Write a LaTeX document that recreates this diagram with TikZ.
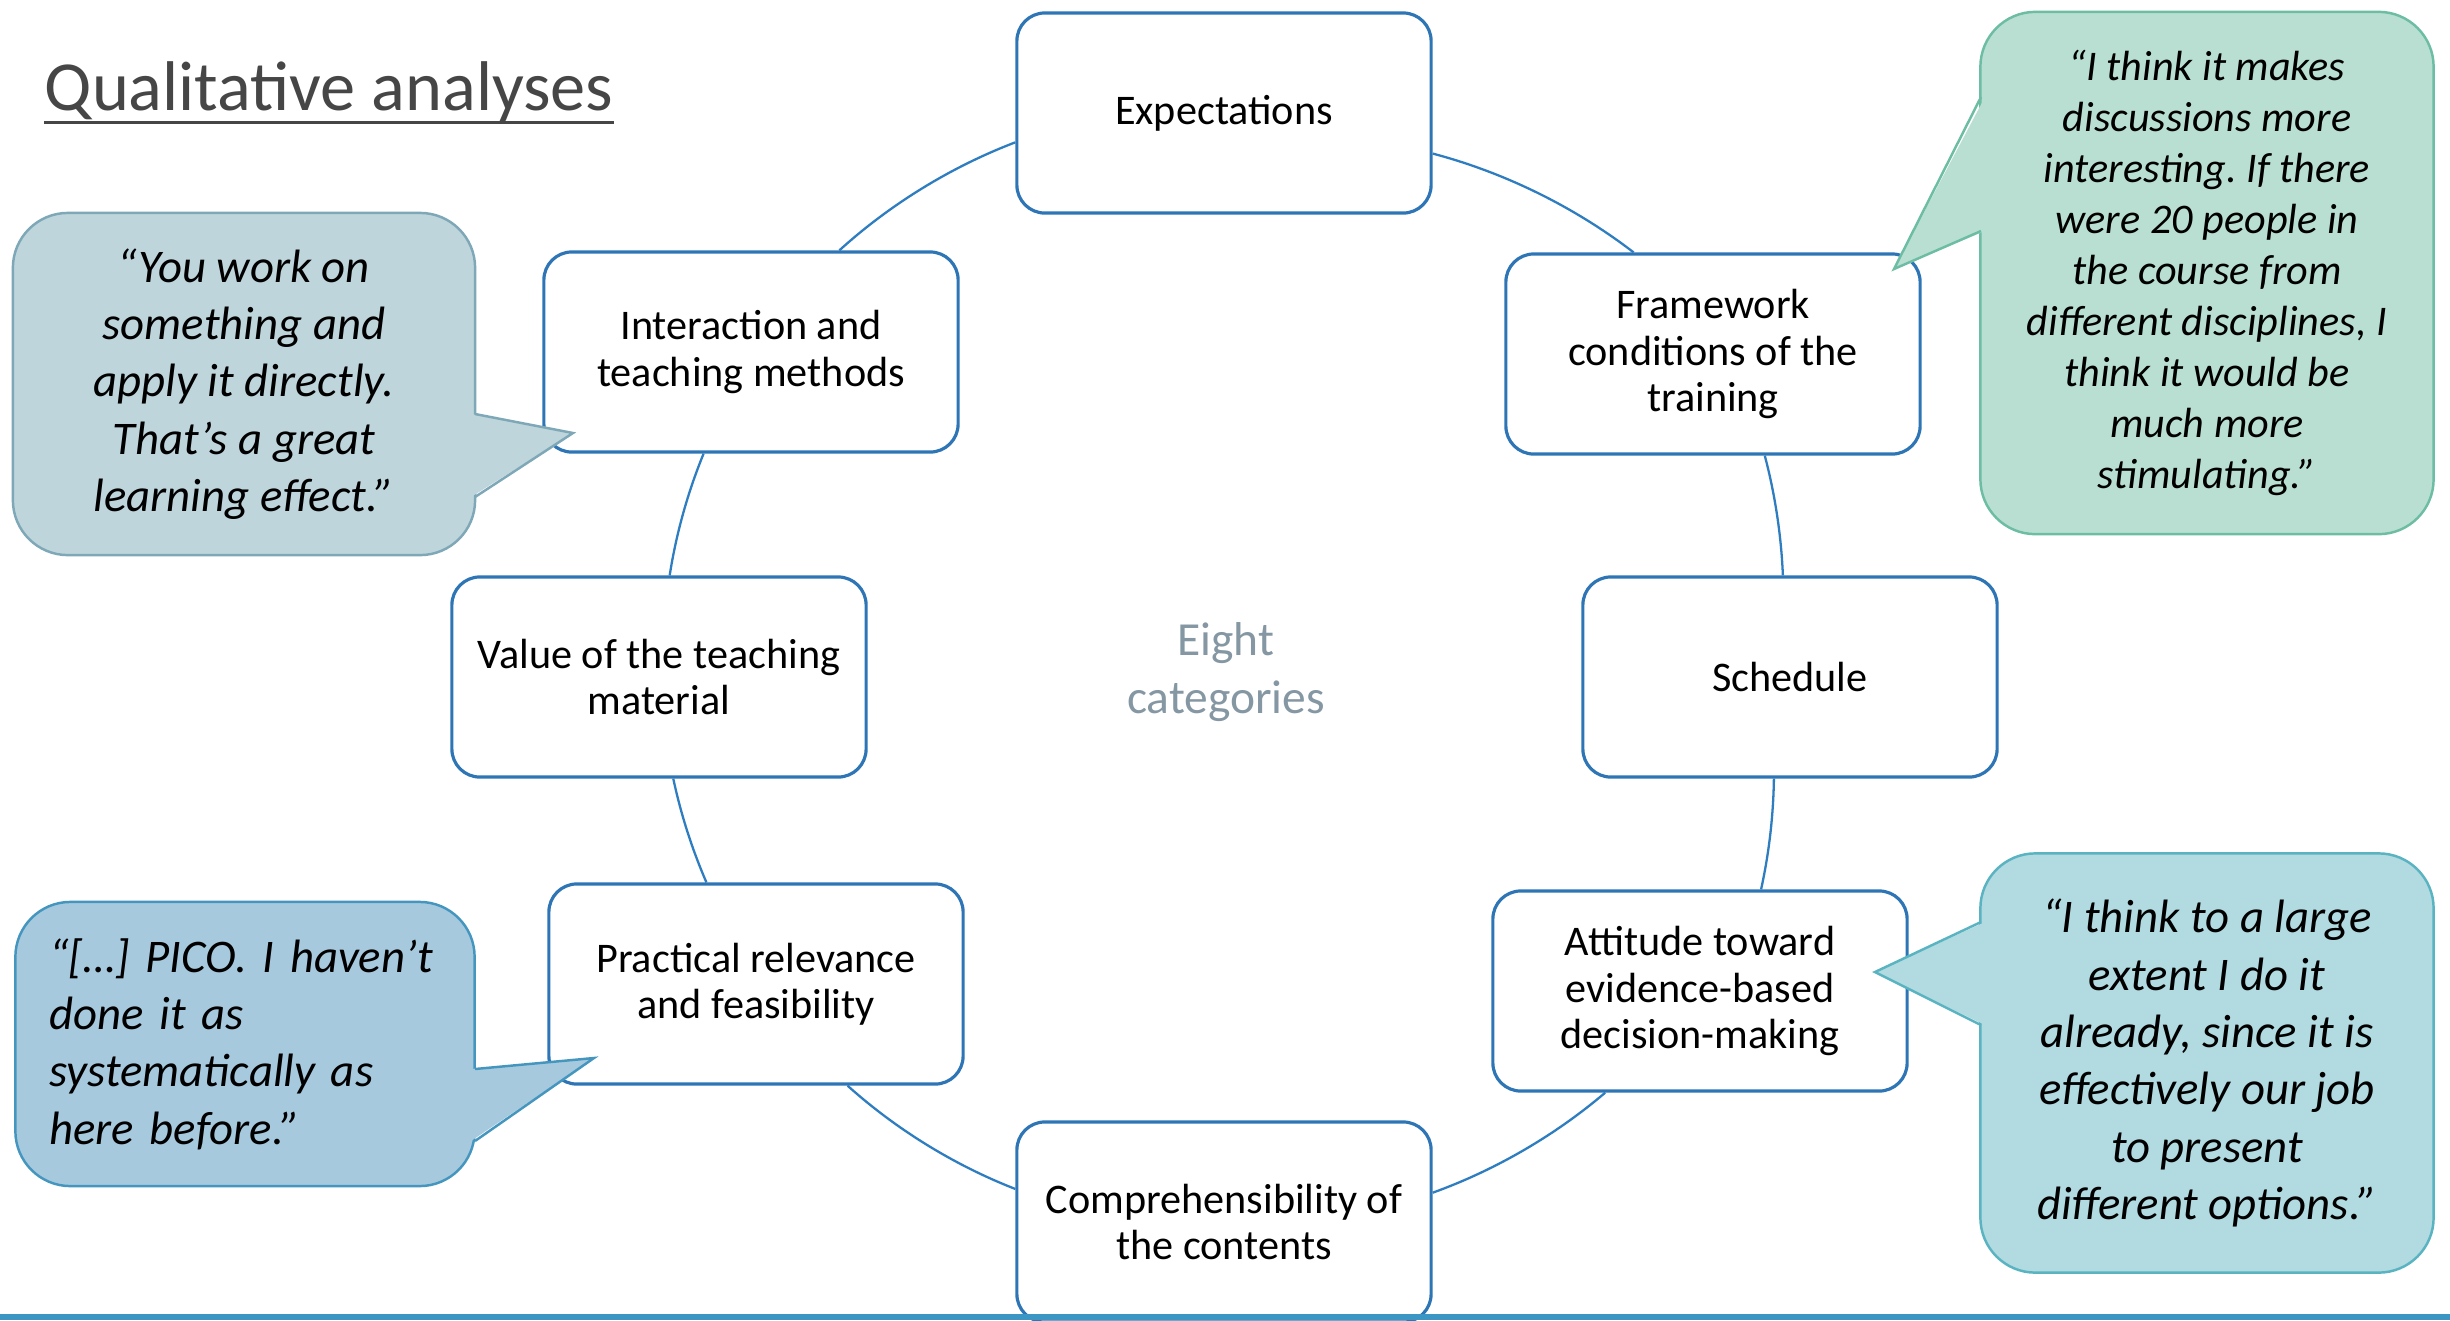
\documentclass[tikz,border=0pt]{standalone}
\usepackage{fontspec}
\setmainfont{Carlito}
\usetikzlibrary{positioning}
\frenchspacing

\definecolor{boxblue}{HTML}{2E75B6}
\definecolor{ringblue}{HTML}{2E7DC0}
\definecolor{titlegray}{HTML}{464646}
\definecolor{hubgray}{HTML}{8497A3}
\definecolor{rulecol}{HTML}{3C96C3}
\definecolor{quoteAfill}{HTML}{BFD5DC}
\definecolor{quoteAline}{HTML}{7EA8B7}
\definecolor{quoteBfill}{HTML}{B9DFD3}
\definecolor{quoteBline}{HTML}{6CBDA3}
\definecolor{quoteCfill}{HTML}{A7C9DE}
\definecolor{quoteCline}{HTML}{4596BF}
\definecolor{quoteDfill}{HTML}{B1DAE1}
\definecolor{quoteDline}{HTML}{5AB3C1}

\begin{document}
\begin{tikzpicture}[
			x=0.01cm, y=-0.01cm,
			category/.style={draw=boxblue, line width=0.9pt, fill=white, rounded corners=2.8mm, minimum width=41.4mm, minimum height=20mm, align=center, inner sep=1mm, font=\fontsize{12}{13.2}\selectfont},
			ring/.style={draw=ringblue, line width=0.65pt, looseness=0.85},
			bubble/.style={rounded corners=5.5mm, line width=0.7pt, inner sep=0pt, align=center, font=\fontsize{13.3}{16.3}\selectfont\itshape},
			tail/.style={line width=0.7pt, line join=miter},
		]
			\useasboundingbox (0,0) rectangle (2450,1320);
			\fill[white] (0,0) rectangle (2450,1320);

			\node[anchor=base west, inner sep=0pt, text=titlegray, font=\fontsize{20}{24}\selectfont] (title) at (44,110) {Qualitative analyses};
			\draw[titlegray, line width=0.85pt] ([yshift=-1.2mm]title.base west) -- ([yshift=-1.2mm]title.base east);

			\node[category] (expect) at (1224,113) {Expectations};
			\node[category] (interact) at (751,352) {Interaction and\\teaching methods};
			\node[category] (value) at (659,677) {Value of the teaching\\material};
			\node[category] (pract) at (756,984) {Practical relevance\\and feasibility};
			\node[category] (compr) at (1224,1222) {Comprehensibility of\\the contents};
			\node[category] (attit) at (1700,991) {Attitude toward\\evidence-based\\decision-making};
			\node[category] (sched) at (1790,677) {Schedule};
			\node[category] (frame) at (1713,354) {Framework\\conditions of the\\training};

			\node[text=hubgray, align=center, font=\fontsize{13.5}{16.5}\selectfont] (hub) at (1226,672) {Eight\\categories};

			% ring of arcs, counterclockwise
			\draw[ring] (expect.188.7) to[bend right=10.7] (interact.49.6);
			\draw[ring] (interact.245.3) to[bend right=6.7] (value.84.3);
			\draw[ring] (value.278) to[bend right=5.7] (pract.116.7);
			\draw[ring] (pract.312.3) to[bend right=10.3] (compr.171.1);
			\draw[ring] (compr.8.9) to[bend right=10.3] (attit.227.7);
			\draw[ring] (attit.59.9) to[bend right=5.8] (sched.261.5);
			\draw[ring] (sched.94) to[bend right=6.2] (frame.297);
			\draw[ring] (frame.128.7) to[bend right=11.4] (expect.349);

			% quotes
			\node[bubble, draw=quoteAline, fill=quoteAfill, minimum width=46.2mm, minimum height=34.2mm] (quoteA) at (244,384) {“You work on\\something and\\apply it directly.\\That’s a great\\learning effect.”};
			\coordinate (tipA) at (573,433);
			\fill[quoteAfill] (471,414) -- (tipA) -- (471,497) -- cycle;
			\draw[tail, quoteAline] (475,414) -- (tipA) -- (475,497);

			\node[bubble, draw=quoteBline, fill=quoteBfill, minimum width=45.3mm, minimum height=52.2mm, font=\fontsize{12}{14.5}\selectfont\itshape] (quoteB) at (2207,273) {“I think it makes\\discussions more\\interesting. If there\\were 20 people in\\the course from\\different disciplines, I\\think it would be\\much more\\stimulating.”};
			\coordinate (tipB) at (1894,269);
			\fill[quoteBfill] (1985,97) -- (tipB) -- (1985,231) -- cycle;
			\draw[tail, quoteBline] (1981,97) -- (tipB) -- (1981,231);

			\node[bubble, draw=quoteCline, fill=quoteCfill, minimum width=45.9mm, minimum height=28.4mm, align=left, text width=39.1mm] (quoteC) at (245,1044) {“[…] PICO. I haven’t\\done it as\\systematically as\\here before.”};
			\coordinate (tipC) at (594,1058);
			\fill[quoteCfill] (471,1069) -- (tipC) -- (471,1141) -- cycle;
			\draw[tail, quoteCline] (475,1069) -- (tipC) -- (475,1141);

			\node[bubble, draw=quoteDline, fill=quoteDfill, minimum width=45.3mm, minimum height=41.9mm] (quoteD) at (2207,1063) {“I think to a large\\extent I do it\\already, since it is\\effectively our job\\to present\\different options.”};
			\coordinate (tipD) at (1875,972);
			\fill[quoteDfill] (1985,922) -- (tipD) -- (1985,1025) -- cycle;
			\draw[tail, quoteDline] (1981,922) -- (tipD) -- (1981,1025);

			\coordinate (ruleL) at (0,1317);
			\coordinate (ruleR) at (2450,1317);
			\draw[rulecol, line width=1.7pt] (ruleL) -- (ruleR);
		\end{tikzpicture}
\end{document}
